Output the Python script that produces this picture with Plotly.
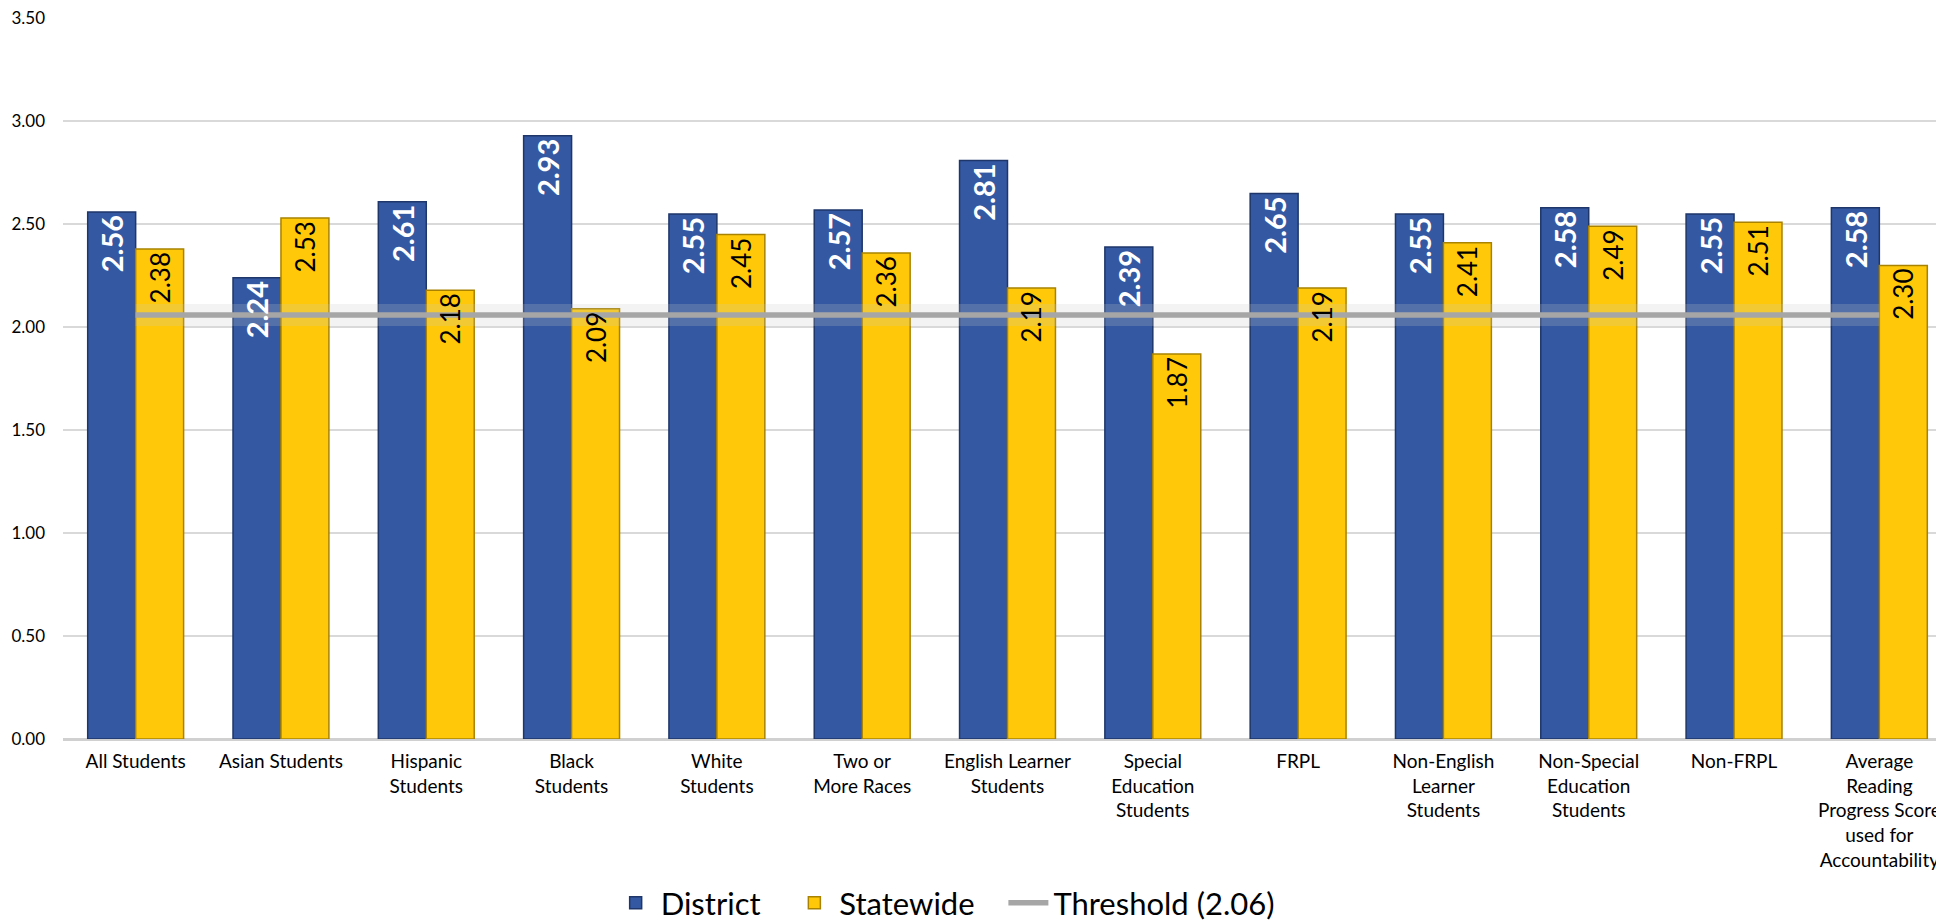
import plotly.graph_objects as go

categories = [
    "All Students", "Asian Students", "Hispanic<br>Students", "Black<br>Students",
    "White<br>Students", "Two or<br>More Races", "English Learner<br>Students",
    "Special<br>Education<br>Students", "FRPL", "Non-English<br>Learner<br>Students",
    "Non-Special<br>Education<br>Students", "Non-FRPL",
    "Average<br>Reading<br>Progress Score<br>used for<br>Accountability",
]
district = [2.56, 2.24, 2.61, 2.93, 2.55, 2.57, 2.81, 2.39, 2.65, 2.55, 2.58, 2.55, 2.58]
statewide = [2.38, 2.53, 2.18, 2.09, 2.45, 2.36, 2.19, 1.87, 2.19, 2.41, 2.49, 2.51, 2.30]
threshold_value = 2.06
threshold = [threshold_value] * len(categories)
y_ticks = [0, 0.5, 1.0, 1.5, 2.0, 2.5, 3.0, 3.5]

FONT = "Lato, 'Noto Sans', sans-serif"
BLUE = "#3459a2"
YELLOW = "#ffc90a"
Y_RANGE = [0, 3.502]
X_RANGE = [-0.5, len(categories) - 0.5]
PAD = "\u00a0\u00a0\u00a0"

fig = go.Figure()
# Bars (base subplot)
fig.add_trace(go.Bar(
    name="District" + PAD, x=categories, y=district,
    marker=dict(color=BLUE, line=dict(color="#1e3669", width=1.5)),
    hoverinfo="skip",
))
fig.add_trace(go.Bar(
    name="Statewide" + PAD, x=categories, y=statewide,
    marker=dict(color=YELLOW, line=dict(color="#a88200", width=1.5)),
    hoverinfo="skip",
))
# Threshold line (soft shadow + line)
fig.add_trace(go.Scatter(
    x=categories, y=threshold, mode="lines", showlegend=False, hoverinfo="skip",
    line=dict(color="rgba(200,200,200,0.22)", width=22),
))
fig.add_trace(go.Scatter(
    name="Threshold (2.06)", x=categories, y=threshold, mode="lines",
    line=dict(color="#a6a6a6", width=5.5),
))
# Value labels on an overlaid subplot so they sit above the threshold line
fig.add_trace(go.Bar(
    x=categories, y=district, xaxis="x2", yaxis="y2", showlegend=False,
    marker=dict(color="rgba(0,0,0,0)", line=dict(width=0)),
    texttemplate="%{y:.2f}", textposition="inside", insidetextanchor="end",
    textangle=-90, constraintext="none",
    textfont=dict(family=FONT, size=29, color="white", weight="bold"),
    hovertemplate="District: %{y:.2f}<extra></extra>",
))
fig.add_trace(go.Bar(
    x=categories, y=statewide, xaxis="x2", yaxis="y2", showlegend=False,
    marker=dict(color="rgba(0,0,0,0)", line=dict(width=0)),
    texttemplate="%{y:.2f}", textposition="inside", insidetextanchor="end",
    textangle=-90, constraintext="none",
    textfont=dict(family=FONT, size=26, color="black"),
    hovertemplate="Statewide: %{y:.2f}<extra></extra>",
))

fig.update_layout(
    width=1944, height=922,
    margin=dict(l=55, r=0, t=10, b=189),
    paper_bgcolor="white", plot_bgcolor="white",
    barmode="group", bargap=0.34, bargroupgap=0,
    font=dict(family=FONT, size=18, color="black"),
    legend=dict(
        orientation="h", x=0.467, xanchor="center", y=-0.228, yanchor="middle",
        font=dict(family=FONT, size=31, color="black"),
        traceorder="normal", itemwidth=40,
    ),
    xaxis=dict(
        range=X_RANGE, showgrid=False, ticks="", showline=False, automargin=False,
        tickfont=dict(family=FONT, size=19, color="black"),
        ticklabelstandoff=9,
    ),
    yaxis=dict(
        range=Y_RANGE, tickvals=y_ticks, tickformat=".2f", automargin=False,
        showgrid=True, gridcolor="#d9d9d9", gridwidth=1.5,
        zeroline=True, zerolinecolor="#d0d0d0", zerolinewidth=2.5,
        showline=False, ticks="", ticklabeloverflow="allow",
        tickfont=dict(family=FONT, size=17, color="black"),
        ticklabelstandoff=17,
    ),
    xaxis2=dict(overlaying="x", range=X_RANGE, visible=False),
    yaxis2=dict(overlaying="y", range=Y_RANGE, visible=False),
)

fig.write_html("out.html")
